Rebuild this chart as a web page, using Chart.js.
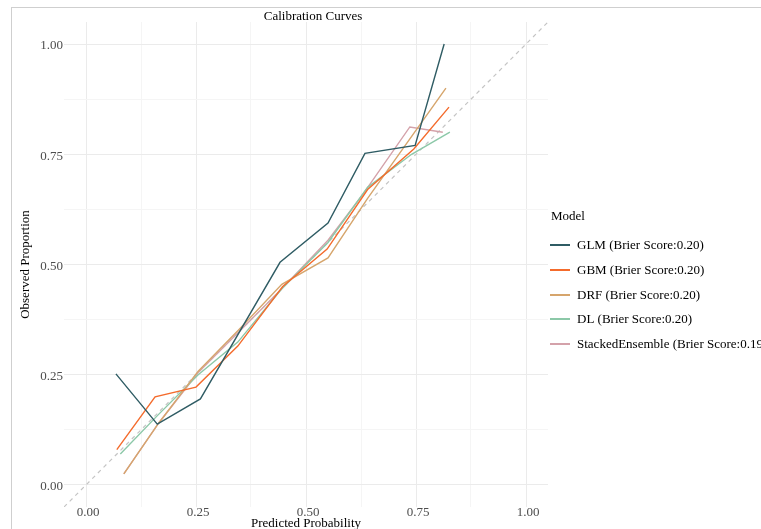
<!DOCTYPE html>
<html>
<head>
<meta charset="utf-8">
<script src="https://cdn.jsdelivr.net/npm/chart.js@4.4.1/dist/chart.umd.min.js"></script>
<style>
  body { margin: 0; overflow: hidden; background: #fff; }
  #frame { position: absolute; left: 11px; top: 7px; width: 900px; height: 700px;
           border-left: 1px solid #cfcfcf; border-top: 1px solid #cfcfcf; }
  #myChart { position: absolute; left: 0; top: 0; }
</style>
</head>
<body>
<div id="frame"></div>
<canvas id="myChart" width="800" height="540"></canvas>
<script>
// Данные кривых калибровки
let modelNames = ['GLM', 'GBM', 'DRF', 'DL', 'StackedEnsemble'];
let brierScores = ['0.20', '0.20', '0.20', '0.20', '0.19'];
let modelColors = ['#2f5c64', '#f46b2c', '#d6a56c', '#8cc8a8', '#d4a2aa'];

let glmX = [0.068, 0.162, 0.260, 0.441, 0.550, 0.634, 0.748, 0.814];
let glmY = [0.252, 0.138, 0.195, 0.505, 0.594, 0.752, 0.770, 1.000];
let gbmX = [0.070, 0.157, 0.250, 0.345, 0.447, 0.548, 0.640, 0.745, 0.825];
let gbmY = [0.080, 0.200, 0.222, 0.315, 0.450, 0.535, 0.670, 0.762, 0.857];
let drfX = [0.086, 0.165, 0.255, 0.350, 0.445, 0.550, 0.640, 0.818];
let drfY = [0.025, 0.140, 0.258, 0.355, 0.455, 0.515, 0.650, 0.900];
let dlX  = [0.078, 0.160, 0.255, 0.345, 0.445, 0.550, 0.640, 0.740, 0.827];
let dlY  = [0.070, 0.155, 0.250, 0.324, 0.445, 0.550, 0.675, 0.750, 0.800];
let seX  = [0.086, 0.165, 0.255, 0.350, 0.445, 0.550, 0.630, 0.736, 0.811];
let seY  = [0.025, 0.140, 0.255, 0.350, 0.445, 0.555, 0.660, 0.812, 0.800];

// диагональ идеальной калибровки
let diagX = [-0.05, 1.05];
let diagY = [-0.05, 1.05];

let tickValues = [0, 0.125, 0.25, 0.375, 0.5, 0.625, 0.75, 0.875, 1];
let tickLabels = {0: '0.00', 0.25: '0.25', 0.5: '0.50', 0.75: '0.75', 1: '1.00'};

let serif = "'Liberation Serif', 'Times New Roman', serif";

let toPoints = (xs, ys) => xs.map((x, i) => ({x: x, y: ys[i]}));
let seriesX = [glmX, gbmX, drfX, dlX, seX];
let seriesY = [glmY, gbmY, drfY, dlY, seY];

let datasets = modelNames.map((name, i) => ({
  label: name + ' (Brier Score:' + brierScores[i] + ')',
  data: toPoints(seriesX[i], seriesY[i]),
  borderColor: modelColors[i],
  borderWidth: 1.4,
  pointRadius: 0,
  fill: false,
  tension: 0
}));
datasets.push({
  label: 'diag',
  data: toPoints(diagX, diagY),
  borderColor: '#c4c4c4',
  borderWidth: 1.2,
  borderDash: [4, 4],
  pointRadius: 0,
  fill: false,
  order: 10
});

let gridColor = (ctx) => {
  let v = ctx.tick ? ctx.tick.value : 0;
  return (Math.round(v * 1000) % 250 === 0) ? '#ebebeb' : '#f5f5f5';
};

let setTicks = (scale) => {
  scale.ticks = tickValues.map(v => ({value: v}));
};

let axisConfig = (titleText) => ({
  type: 'linear',
  min: -0.05,
  max: 1.05,
  afterBuildTicks: setTicks,
  border: { display: false },
  grid: { color: gridColor, lineWidth: 1, drawTicks: false },
  ticks: {
    color: '#4d4d4d',
    font: { family: serif, size: 13 },
    autoSkip: false,
    maxRotation: 0,
    padding: 1,
    callback: (v) => tickLabels[v] !== undefined ? tickLabels[v] : ''
  },
  title: {
    display: true,
    text: titleText,
    color: '#000',
    font: { family: serif, size: 13 },
    padding: 0
  }
});

let xScale = axisConfig('Predicted Probability');
xScale.afterFit = (s) => { s.height = 24; };
xScale.ticks.padding = -2;
xScale.ticks.labelOffset = 2;
let yScale = axisConfig('Observed Proportion');
yScale.afterFit = (s) => { s.width = 64; };
yScale.ticks.labelOffset = 2;
yScale.title.padding = { top: 18, bottom: 0 };

// Заголовок и легенда
let decorPlugin = {
  id: 'decor',
  afterDraw(chart) {
    let c = chart.ctx;
    c.save();
    c.fillStyle = '#000';
    c.font = '13px ' + serif;
    c.textBaseline = 'middle';
    c.textAlign = 'center';
    c.fillText('Calibration Curves', 313, 17);

    c.textAlign = 'left';
    c.fillText('Model', 551, 217);
    chart.data.datasets.slice(0, modelNames.length).forEach((ds, i) => {
      let y = Math.round(245 + i * 24.8);
      c.strokeStyle = ds.borderColor;
      c.lineWidth = 2;
      c.beginPath();
      c.moveTo(550, y);
      c.lineTo(570, y);
      c.stroke();
      c.fillStyle = '#000';
      c.fillText(ds.label, 577, y + 1);
    });
    c.restore();
  }
};

let ctxChart = document.querySelector('#myChart').getContext('2d');
let chart = new Chart(ctxChart, {
  type: 'line',
  data: { datasets: datasets },
  options: {
    responsive: false,
    animation: false,
    devicePixelRatio: 1,
    layout: { padding: { left: 0, top: 22, right: 252, bottom: 9 } },
    scales: { x: xScale, y: yScale },
    plugins: {
      legend: { display: false },
      title: { display: false },
      tooltip: { enabled: false }
    }
  },
  plugins: [decorPlugin]
});
</script>
</body>
</html>
